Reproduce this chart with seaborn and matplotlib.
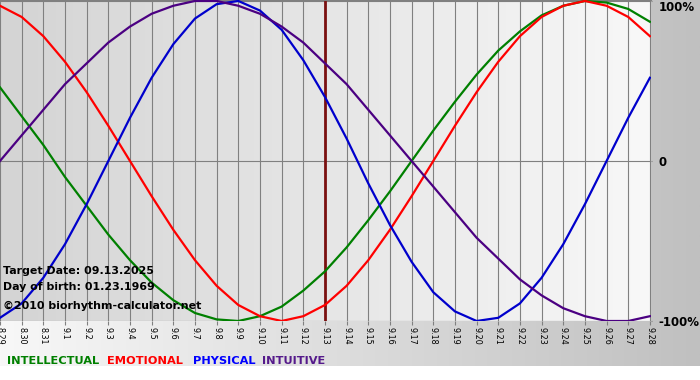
import numpy as np
import pandas as pd
import matplotlib
matplotlib.use("Agg")
import matplotlib.pyplot as plt
from matplotlib.colors import LinearSegmentedColormap
import seaborn as sns

# -----------------------------
# Chart data (percent)
# -----------------------------
days = ["8.29", "8.30", "8.31", "9.1", "9.2", "9.3", "9.4", "9.5", "9.6", "9.7",
        "9.8", "9.9", "9.10", "9.11", "9.12", "9.13", "9.14", "9.15", "9.16", "9.17",
        "9.18", "9.19", "9.20", "9.21", "9.22", "9.23", "9.24", "9.25", "9.26", "9.27",
        "9.28"]

intellectual = [46, 28, 10, -10, -28, -46, -62, -76, -87, -95,
                -99, -100, -97, -91, -81, -69, -54, -37, -19, 0,
                19, 37, 54, 69, 81, 91, 97, 100, 99, 95,
                87]

emotional = [97, 90, 78, 62, 43, 22, 0, -22, -43, -62,
             -78, -90, -97, -100, -97, -90, -78, -62, -43, -22,
             0, 22, 43, 62, 78, 90, 97, 100, 97, 90,
             78]

physical = [-98, -89, -73, -52, -27, 0, 27, 52, 73, 89,
            98, 100, 94, 82, 63, 40, 14, -14, -40, -63,
            -82, -94, -100, -98, -89, -73, -52, -27, 0, 27,
            52]

intuitive = [0, 16, 32, 48, 61, 74, 84, 92, 97, 100,
             100, 97, 92, 84, 74, 61, 48, 32, 16, 0,
             -16, -32, -48, -61, -74, -84, -92, -97, -100, -100,
             -97]

rhythms = ["INTELLECTUAL", "EMOTIONAL", "PHYSICAL", "INTUITIVE"]
colors = {"INTELLECTUAL": "#008000", "EMOTIONAL": "#ff0000",
          "PHYSICAL": "#0000cc", "INTUITIVE": "#4b0082"}
legend_colors = {"INTELLECTUAL": "#008000", "EMOTIONAL": "#ff0000",
                 "PHYSICAL": "#0000ff", "INTUITIVE": "#551a8b"}

target_label = "Target Date: 09.13.2025"
birth_label = "Day of birth: 01.23.1969"
copyright_label = "\u00a92010 biorhythm-calculator.net"
target_day = "9.13"

df = pd.DataFrame({
    "day": list(range(len(days))) * 4,
    "value": intellectual + emotional + physical + intuitive,
    "rhythm": sum([[r] * len(days) for r in rhythms], []),
})

# -----------------------------
# Figure + backgrounds
# -----------------------------
W, H = 700, 380
fig = plt.figure(figsize=(W / 100, H / 100), dpi=100)
fig.patch.set_facecolor("white")

bg = fig.add_axes([0, 0, 1, 1], zorder=0)
bg.set_xlim(0, W)
bg.set_ylim(H, 0)
bg.axis("off")
grad = np.linspace(0, 1, 256)[None, :]
outer_cmap = LinearSegmentedColormap.from_list("outer", ["#f8f8f8", "#c0c0c0"])
bg.imshow(grad, cmap=outer_cmap, extent=(0, W, 366, 0), aspect="auto")

ax = fig.add_axes([0, (H - 321) / H, 651 / W, 321 / H], zorder=1)
x_max = 30.05
y_min, y_max = -100, 100.6
inner_cmap = LinearSegmentedColormap.from_list("inner", ["#d4d4d4", "#f8f8f8"])
ax.imshow(grad, cmap=inner_cmap, extent=(0, x_max, y_min, y_max),
          aspect="auto", zorder=0)

# -----------------------------
# Curves
# -----------------------------
sns.lineplot(data=df, x="day", y="value", hue="rhythm", hue_order=rhythms,
             palette=colors, linewidth=1.6, legend=False, ax=ax, zorder=3)

ax.axvline(days.index(target_day), color="#7a1010", linewidth=2, zorder=2.5)

ax.set_xlim(0, x_max)
ax.set_ylim(y_min, y_max)
ax.set_xlabel("")
ax.set_ylabel("")

ax.set_xticks(range(len(days)))
ax.set_xticklabels(days, rotation=270, fontsize=5.8, ha="center", va="top")
ax.tick_params(axis="x", length=3, width=0.8, color="#808080", pad=1)

ax.yaxis.tick_right()
ax.set_yticks([-100, 0, 100])
ax.set_yticklabels(["-100%", "0", "100%"], fontsize=8.5, fontweight="bold")
ax.tick_params(axis="y", length=1, width=0.8, color="#808080", pad=4.6)
ax.get_yticklabels()[2].set_verticalalignment("top")

ax.grid(True, color="#808080", linewidth=0.8, zorder=1)
for side in ["left", "right", "bottom"]:
    ax.spines[side].set_visible(False)
ax.spines["top"].set_color("#808080")
ax.spines["top"].set_linewidth(0.8)

# -----------------------------
# Info text + legend
# -----------------------------
def px(x, y):
    return x / W, 1 - y / H

for label, y in [(target_label, 271), (birth_label, 287), (copyright_label, 306)]:
    fig.text(*px(3, y), label, fontsize=7.9, fontweight="bold",
             color="#000000", va="center", ha="left", zorder=5)

for r, x in zip(rhythms, [7, 107, 193, 262]):
    fig.text(*px(x, 361), r, fontsize=8.2, fontweight="bold",
             color=legend_colors[r], va="center", ha="left", zorder=5)

fig.savefig("out.png", dpi=100)
